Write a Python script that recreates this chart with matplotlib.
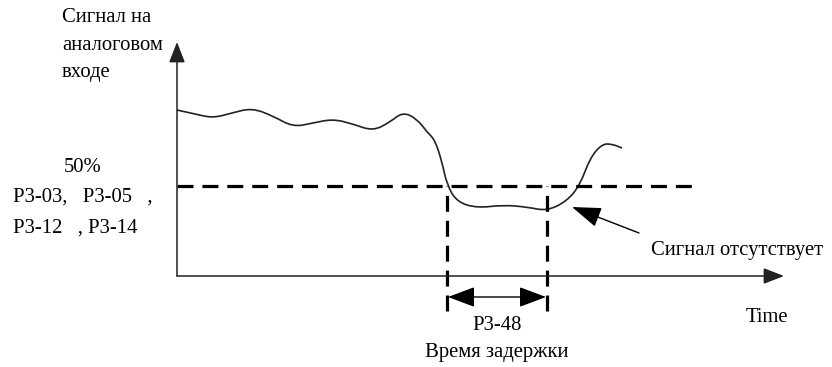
import matplotlib
matplotlib.use('Agg')
import matplotlib.pyplot as plt
from matplotlib.path import Path
from matplotlib.patches import PathPatch

plt.rcParams['font.family'] = ['Liberation Serif', 'DejaVu Serif']

# сигнал на аналоговом входе (координаты рисунка, y вниз)
curve_x = [177, 195, 213, 232, 252, 273, 293, 313, 333, 353, 373, 390, 403, 417,
           427, 435, 442, 447, 457, 477, 503, 527, 547, 567, 580, 590, 602, 612, 622]
curve_y = [110, 114, 118, 113, 108, 116, 127, 123, 119, 124, 131, 122, 112, 119,
           132, 140, 162, 185, 202, 208, 205, 207, 211, 201, 185, 158, 144, 144, 148]

threshold_y = 186          # уровень 50% (P3-03, P3-05, P3-12, P3-14)
threshold_end = 697
delay_start, delay_end = 447, 547   # P3-48
axis_x0, axis_y0 = 177, 276

fig = plt.figure(figsize=(8.32, 3.67), dpi=100)
ax = fig.add_axes([0, 0, 1, 1])
ax.set_xlim(0, 832)
ax.set_ylim(367, 0)
ax.axis('off')

# оси со стрелками
ax.annotate('', xy=(axis_x0, 42), xytext=(axis_x0, axis_y0),
            arrowprops=dict(arrowstyle='-|>,head_length=0.9,head_width=0.35',
                            mutation_scale=14, color='#222222', lw=1.1,
                            shrinkA=0, shrinkB=0))
ax.annotate('', xy=(784, axis_y0), xytext=(axis_x0, axis_y0),
            arrowprops=dict(arrowstyle='-|>,head_length=0.9,head_width=0.35',
                            mutation_scale=14, color='#222222', lw=1.1,
                            shrinkA=0, shrinkB=0))

# кривая сигнала: сглаживаем через середины отрезков
pts = list(zip(curve_x, curve_y))
verts = [pts[0]]
codes = [Path.MOVETO]
for i in range(1, len(pts) - 1):
    mid = ((pts[i][0] + pts[i + 1][0]) / 2, (pts[i][1] + pts[i + 1][1]) / 2)
    verts += [pts[i], mid]
    codes += [Path.CURVE3, Path.CURVE3]
verts.append(pts[-1])
codes.append(Path.LINETO)
ax.add_patch(PathPatch(Path(verts, codes), fill=False, lw=1.2, color='#222222'))

# порог и интервал задержки
dash = dict(color='black', lw=2.3, dashes=(5, 2.8))
ax.plot([axis_x0, threshold_end], [threshold_y, threshold_y], **dash)
ax.plot([delay_start, delay_start], [311, threshold_y], **dash)
ax.plot([delay_end, delay_end], [311, threshold_y], **dash)

ax.annotate('', xy=(delay_start + 1, 297), xytext=(delay_end - 1, 297),
            arrowprops=dict(arrowstyle='<|-|>,head_length=1.2,head_width=0.45',
                            mutation_scale=14, color='black', lw=1.0,
                            shrinkA=0, shrinkB=0))

# стрелка к подписи «Сигнал отсутствует»
ax.annotate('', xy=(572, 207), xytext=(639, 233),
            arrowprops=dict(arrowstyle='-|>,head_length=1.3,head_width=0.45',
                            mutation_scale=14, color='black', lw=1.0,
                            shrinkA=0, shrinkB=0))

fs = 14.9
ax.text(62, 17, 'Сигнал на', fontsize=fs, va='center', ha='left')
ax.text(62, 45, 'аналоговом', fontsize=fs, va='center', ha='left')
ax.text(62, 72, 'входе', fontsize=fs, va='center', ha='left')
ax.text(83, 168, '50%', fontsize=fs, va='center', ha='center')
ax.text(13, 197, 'P3-03,   P3-05   ,', fontsize=fs, va='center', ha='left')
ax.text(13, 228, 'P3-12   , P3-14', fontsize=fs, va='center', ha='left')
ax.text(651, 250, 'Сигнал отсутствует', fontsize=fs, va='center', ha='left')
ax.text(767, 317, 'Time', fontsize=fs, va='center', ha='center')
ax.text(497, 325, 'P3-48', fontsize=fs, va='center', ha='center')
ax.text(497, 353, 'Время задержки', fontsize=fs, va='center', ha='center')

fig.savefig('out.png', dpi=100, facecolor='white')
